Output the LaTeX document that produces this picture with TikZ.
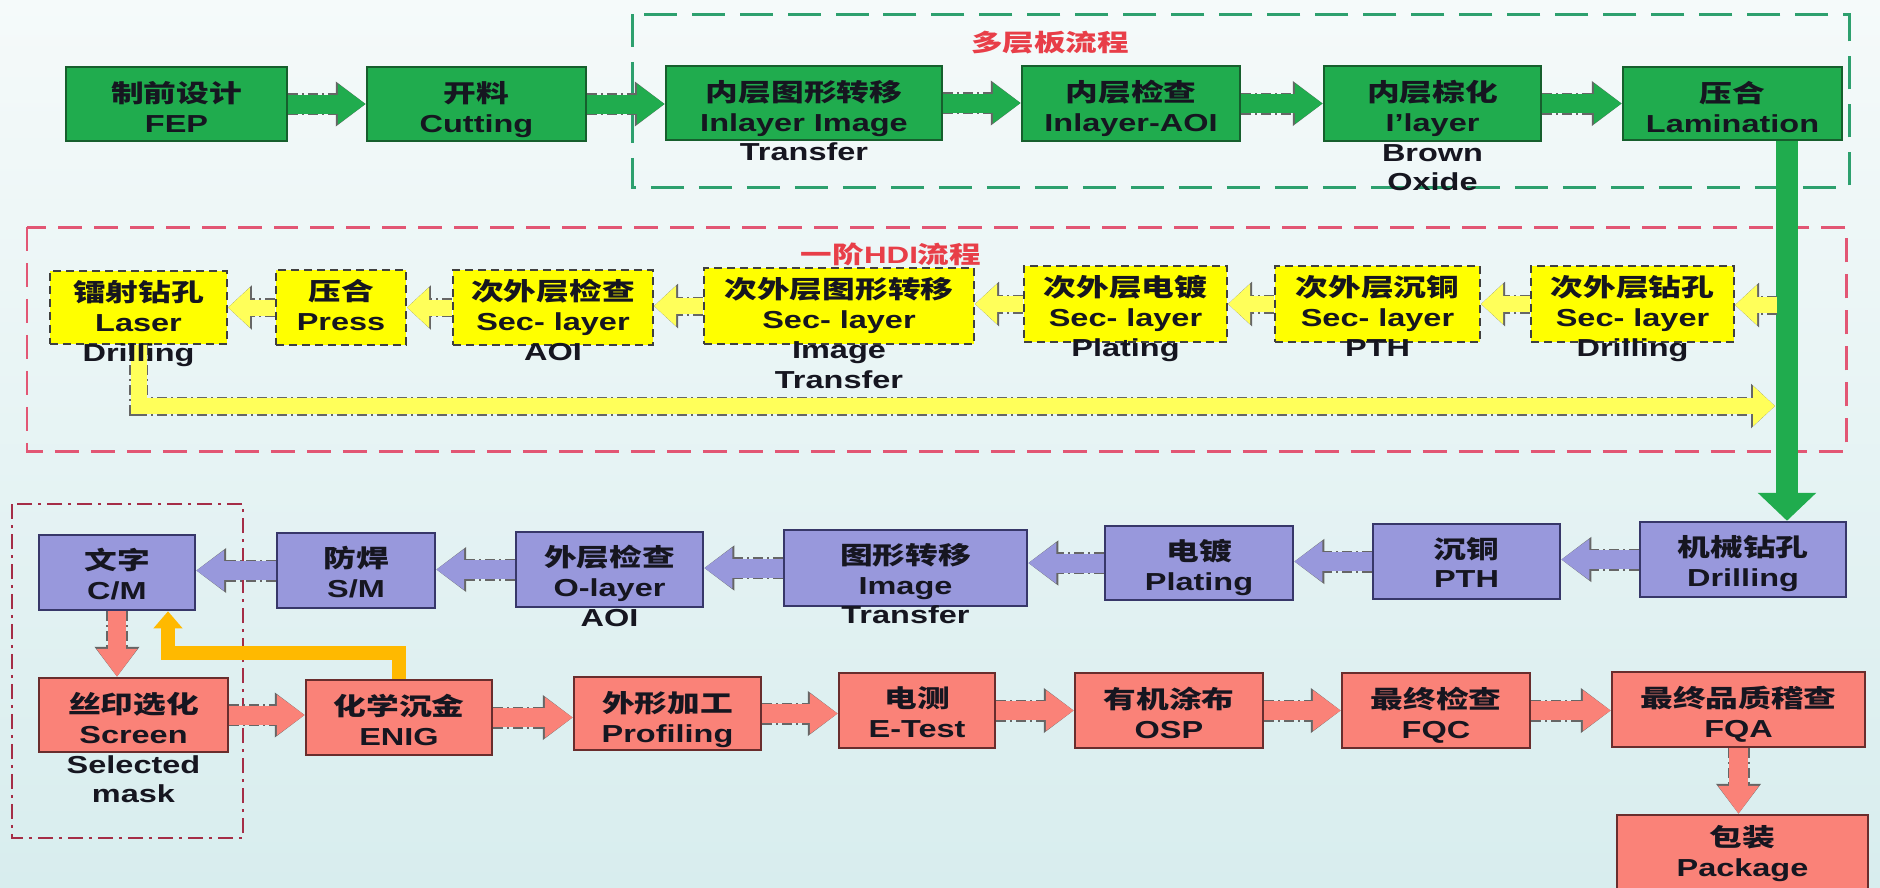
\documentclass[tikz,border=0pt]{standalone}
\usepackage{fontspec}
\setmainfont{Liberation Sans}[FakeStretch=1.32]
\newfontfamily\cjk{Noto Sans CJK SC}[FakeStretch=1.33]
\usetikzlibrary{arrows.meta, fit, positioning}
\newcommand{\zh}[1]{{\cjk #1}}
\definecolor{bgtop}{RGB}{245,250,250}
\definecolor{bgbot}{RGB}{216,237,238}
\definecolor{cgreen}{RGB}{32,172,78}
\definecolor{dgreen}{RGB}{22,95,45}
\definecolor{cframe}{RGB}{45,160,110}
\definecolor{cyellow}{RGB}{255,255,0}
\definecolor{lyellow}{RGB}{255,255,90}
\definecolor{cpurple}{RGB}{152,152,220}
\definecolor{dpurple}{RGB}{55,55,105}
\definecolor{csalmon}{RGB}{250,130,120}
\definecolor{dsalmon}{RGB}{105,45,45}
\definecolor{corange}{RGB}{255,185,0}
\definecolor{cred}{RGB}{232,62,72}
\definecolor{rframe}{RGB}{226,86,116}
\definecolor{sframe}{RGB}{165,45,70}
\definecolor{ctext}{RGB}{22,22,32}
\tikzset{%
   greenbox/.style={draw=dgreen, fill=cgreen, line width=0.05cm, inner sep=0pt},
   yellowbox/.style={draw=black!75, fill=cyellow, line width=0.04cm, dash pattern=on 0.16cm off 0.1cm, inner sep=0pt},
   purplebox/.style={draw=dpurple, fill=cpurple, line width=0.05cm, inner sep=0pt},
   salmonbox/.style={draw=dsalmon, fill=csalmon, line width=0.05cm, inner sep=0pt},
   lbl/.style={anchor=north, align=center, inner sep=0pt, text=ctext,
      font=\bfseries\fontsize{14}{17}\selectfont},
   ttl/.style={inner sep=0pt, text=cred, font=\bfseries\fontsize{13.5}{16}\selectfont},
   gframe/.style={draw=cframe, line width=0.06cm, dash pattern=on 0.66cm off 0.3cm},
   hframe/.style={draw=rframe, line width=0.06cm, dash pattern=on 0.48cm off 0.24cm},
   mframe/.style={draw=sframe, line width=0.05cm, dash pattern=on 0.3cm off 0.12cm on 0.06cm off 0.12cm},
   flow/.style={draw=#1, line width=0.38cm, -{Triangle[length=0.56cm, width=0.78cm]},
      preaction={draw=black!60, line width=0.44cm,
         dash pattern=on 0.2cm off 0.08cm on 0.04cm off 0.08cm,
         -{Triangle[length=0.6cm, width=0.86cm]}}},
   yflow/.style={draw=lyellow, line width=0.32cm, -{Triangle[length=0.44cm, width=0.78cm]},
      preaction={draw=black!60, line width=0.38cm,
         dash pattern=on 0.2cm off 0.08cm on 0.04cm off 0.08cm,
         -{Triangle[length=0.48cm, width=0.86cm]}}},
   gdown/.style={draw=cgreen, line width=0.44cm, -{Triangle[length=0.56cm, width=1.14cm]}},
   oflow/.style={draw=corange, line width=0.28cm, -{Triangle[length=0.34cm, width=0.56cm]}},
}

\begin{document}
\begin{tikzpicture}[x=0.02cm, y=-0.02cm]
   \fill[top color=bgtop, bottom color=bgbot] (0,0) rectangle (1880,887);
   \useasboundingbox (0,0) rectangle (1880,887);

   % frames
   \draw[gframe] (632,14) rectangle (1849,187);
   \node[ttl] (mltitle) at (1050,43) {\zh{多层板流程}};
   \draw[hframe] (27,227) rectangle (1846,451);
   \node[ttl] (hdititle) at (891,254) {\zh{一阶}HDI\zh{流程}};
   \draw[mframe] (12,504) rectangle (243,838);

   % multilayer row
   \node[greenbox, fit={(66,67) (287,141)}] (fep) {};
   \node[greenbox, fit={(367,67) (586,141)}] (cut) {};
   \node[greenbox, fit={(666,66) (942,140)}] (inimg) {};
   \node[greenbox, fit={(1022,66) (1240,141)}] (inaoi) {};
   \node[greenbox, fit={(1324,66) (1541,141)}] (brown) {};
   \node[greenbox, fit={(1623,67) (1842,140)}] (lam) {};

   % HDI row
   \node[yellowbox, fit={(50,271) (227,344)}] (laser) {};
   \node[yellowbox, fit={(276,270) (406,345)}] (press) {};
   \node[yellowbox, fit={(453,270) (653,345)}] (saoi) {};
   \node[yellowbox, fit={(704,268) (974,344)}] (simg) {};
   \node[yellowbox, fit={(1024,266) (1227,342)}] (splat) {};
   \node[yellowbox, fit={(1275,266) (1480,342)}] (spth) {};
   \node[yellowbox, fit={(1531,266) (1734,342)}] (sdrill) {};

   % outer layer row
   \node[purplebox, fit={(39,535) (195,610)}] (cm) {};
   \node[purplebox, fit={(277,533) (435,608)}] (sm) {};
   \node[purplebox, fit={(516,532) (703,607)}] (oaoi) {};
   \node[purplebox, fit={(784,530) (1027,606)}] (oimg) {};
   \node[purplebox, fit={(1105,526) (1293,600)}] (plat) {};
   \node[purplebox, fit={(1373,524) (1560,599)}] (pth) {};
   \node[purplebox, fit={(1640,522) (1846,597)}] (mdrill) {};

   % finishing row
   \node[salmonbox, fit={(39,678) (228,752)}] (scr) {};
   \node[salmonbox, fit={(306,680) (492,755)}] (enig) {};
   \node[salmonbox, fit={(574,677) (761,750)}] (prof) {};
   \node[salmonbox, fit={(839,673) (995,748)}] (etest) {};
   \node[salmonbox, fit={(1075,673) (1263,748)}] (osp) {};
   \node[salmonbox, fit={(1342,673) (1530,748)}] (fqc) {};
   \node[salmonbox, fit={(1612,672) (1865,747)}] (fqa) {};
   \node[salmonbox, fit={(1617,815) (1868,910)}] (pkg) {};

   % connectors
   \draw[flow=cgreen] (fep.east) -- (fep.east -| cut.west);
   \draw[flow=cgreen] (cut.east) -- (cut.east -| inimg.west);
   \draw[flow=cgreen] (inimg.east) -- (inimg.east -| inaoi.west);
   \draw[flow=cgreen] (inaoi.east) -- (inaoi.east -| brown.west);
   \draw[flow=cgreen] (brown.east) -- (brown.east -| lam.west);
   \coordinate (lamout) at (1787,141);
   \draw[gdown] (lamout) -- (lamout |- mdrill.north);

   \coordinate (hdiin) at (1777,305);
   \coordinate (hdiout) at (1775,406);
   \draw[yflow] (hdiin) -- (hdiin -| sdrill.east);
   \draw[yflow] (sdrill.west) -- (sdrill.west -| spth.east);
   \draw[yflow] (spth.west) -- (spth.west -| splat.east);
   \draw[yflow] (splat.west) -- (splat.west -| simg.east);
   \draw[yflow] (simg.west) -- (simg.west -| saoi.east);
   \draw[yflow] (saoi.west) -- (saoi.west -| press.east);
   \draw[yflow] (press.west) -- (press.west -| laser.east);
   \draw[yflow] (laser.south) |- (hdiout);

   \draw[flow=cpurple] (mdrill.west) -- (mdrill.west -| pth.east);
   \draw[flow=cpurple] (pth.west) -- (pth.west -| plat.east);
   \draw[flow=cpurple] (plat.west) -- (plat.west -| oimg.east);
   \draw[flow=cpurple] (oimg.west) -- (oimg.west -| oaoi.east);
   \draw[flow=cpurple] (oaoi.west) -- (oaoi.west -| sm.east);
   \draw[flow=cpurple] (sm.west) -- (sm.west -| cm.east);

   \draw[flow=csalmon] (cm.south) -- (cm.south |- scr.north);
   \draw[flow=csalmon] (scr.east) -- (scr.east -| enig.west);
   \draw[flow=csalmon] (enig.east) -- (enig.east -| prof.west);
   \draw[flow=csalmon] (prof.east) -- (prof.east -| etest.west);
   \draw[flow=csalmon] (etest.east) -- (etest.east -| osp.west);
   \draw[flow=csalmon] (osp.east) -- (osp.east -| fqc.west);
   \draw[flow=csalmon] (fqc.east) -- (fqc.east -| fqa.west);
   \draw[flow=csalmon] (fqa.south) -- (fqa.south |- pkg.north);

   \coordinate (enigturn) at (168,653);
   \draw[oflow] (enig.north) |- (enigturn) -- (enigturn |- cm.south);

   % texts
   \node[lbl] (fept) at ([yshift=-0.3cm]fep.north) {\zh{制前设计}\\FEP};
   \node[lbl] (cutt) at ([yshift=-0.3cm]cut.north) {\zh{开料}\\Cutting};
   \node[lbl] (inimgt) at ([yshift=-0.3cm]inimg.north) {\zh{内层图形转移}\\Inlayer Image\\Transfer};
   \node[lbl] (inaoit) at ([yshift=-0.3cm]inaoi.north) {\zh{内层检查}\\Inlayer-AOI};
   \node[lbl] (brownt) at ([yshift=-0.3cm]brown.north) {\zh{内层棕化}\\I'layer\\Brown\\Oxide};
   \node[lbl] (lamt) at ([yshift=-0.3cm]lam.north) {\zh{压合}\\Lamination};

   \node[lbl] (lasert) at ([yshift=-0.2cm]laser.north) {\zh{镭射钻孔}\\Laser\\Drilling};
   \node[lbl] (presst) at ([yshift=-0.2cm]press.north) {\zh{压合}\\Press};
   \node[lbl] (saoit) at ([yshift=-0.2cm]saoi.north) {\zh{次外层检查}\\Sec- layer\\AOI};
   \node[lbl] (simgt) at ([yshift=-0.2cm]simg.north) {\zh{次外层图形转移}\\Sec- layer\\Image\\Transfer};
   \node[lbl] (splatt) at ([yshift=-0.2cm]splat.north) {\zh{次外层电镀}\\Sec- layer\\Plating};
   \node[lbl] (sptht) at ([yshift=-0.2cm]spth.north) {\zh{次外层沉铜}\\Sec- layer\\PTH};
   \node[lbl] (sdrillt) at ([yshift=-0.2cm]sdrill.north) {\zh{次外层钻孔}\\Sec- layer\\Drilling};

   \node[lbl] (cmt) at ([yshift=-0.28cm]cm.north) {\zh{文字}\\C/M};
   \node[lbl] (smt) at ([yshift=-0.28cm]sm.north) {\zh{防焊}\\S/M};
   \node[lbl] (oaoit) at ([yshift=-0.28cm]oaoi.north) {\zh{外层检查}\\O-layer\\AOI};
   \node[lbl] (oimgt) at ([yshift=-0.28cm]oimg.north) {\zh{图形转移}\\Image\\Transfer};
   \node[lbl] (platt) at ([yshift=-0.28cm]plat.north) {\zh{电镀}\\Plating};
   \node[lbl] (ptht) at ([yshift=-0.28cm]pth.north) {\zh{沉铜}\\PTH};
   \node[lbl] (mdrillt) at ([yshift=-0.28cm]mdrill.north) {\zh{机械钻孔}\\Drilling};

   \node[lbl] (scrt) at ([yshift=-0.3cm]scr.north) {\zh{丝印选化}\\Screen\\Selected\\mask};
   \node[lbl] (enigt) at ([yshift=-0.3cm]enig.north) {\zh{化学沉金}\\ENIG};
   \node[lbl] (proft) at ([yshift=-0.3cm]prof.north) {\zh{外形加工}\\Profiling};
   \node[lbl] (etestt) at ([yshift=-0.3cm]etest.north) {\zh{电测}\\E-Test};
   \node[lbl] (ospt) at ([yshift=-0.3cm]osp.north) {\zh{有机涂布}\\OSP};
   \node[lbl] (fqct) at ([yshift=-0.3cm]fqc.north) {\zh{最终检查}\\FQC};
   \node[lbl] (fqat) at ([yshift=-0.3cm]fqa.north) {\zh{最终品质稽查}\\FQA};
   \node[lbl] (pkgt) at ([yshift=-0.22cm]pkg.north) {\zh{包装}\\Package};
\end{tikzpicture}
\end{document}
